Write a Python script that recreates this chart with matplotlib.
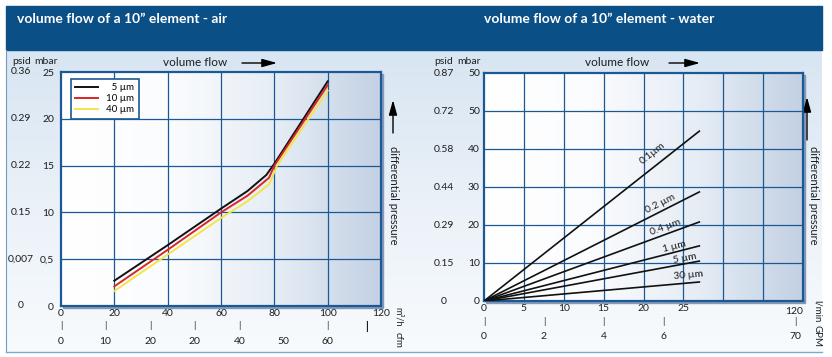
import numpy as np
import matplotlib
matplotlib.use('Agg')
import matplotlib.pyplot as plt
from matplotlib.colors import LinearSegmentedColormap
from matplotlib.patches import Rectangle

W, H = 832, 357

# air chart: volume flow (m3/h) vs differential pressure (mbar)
air_flow_5 = [20, 40, 60, 70, 77, 80, 100]
air_dp_5 = [2.7, 6.5, 10.4, 12.3, 14.0, 15.2, 24.0]
air_flow_10 = [20, 40, 60, 70, 78, 80, 100]
air_dp_10 = [2.1, 6.0, 10.0, 11.8, 13.7, 15.0, 23.6]
air_flow_40 = [20, 40, 60, 70, 78, 80, 81, 100]
air_dp_40 = [1.6, 5.5, 9.4, 11.2, 13.0, 14.3, 15.0, 23.0]
air_labels = ['5 µm', '10 µm', '40 µm']
air_colors = ['#111111', '#d8262a', '#f3e548']

air_x_ticks = [0, 20, 40, 60, 80, 100, 120]
air_mbar_ticks = [0, 5, 10, 15, 20, 25]
air_mbar_labels = ['0', '0,5', '10', '15', '20', '25']
air_psid_labels = ['0', '0,007', '0.15', '0.22', '0.29', '0.36']
air_cfm_pos = [0, 16.5, 33.5, 50, 67, 83.5, 100]
air_cfm_labels = ['0', '10', '20', '20', '40', '50', '60']

# water chart: volume flow (l/min) vs differential pressure (mbar)
water_filters = ['0.1µm', '0.2 µm', '0.4 µm', '1 µm', '5 µm', '30 µm']
water_end_flow = 27
water_end_dp = [44.7, 28.7, 20.8, 14.5, 10.5, 5.0]
water_label_x = [21.1, 22.1, 22.8, 23.9, 25.2, 25.6]
water_label_dy = [4.0, 2.0, 1.9, 1.4, 1.5, 2.1]
water_x_ticks = [0, 5, 10, 15, 20, 25]
water_mbar_ticks = [0, 10, 20, 30, 40, 50, 60]
water_mbar_labels = ['0', '10', '20', '30', '40', '50', '50']
water_psid_labels = ['0', '0.15', '0.29', '0.44', '0.58', '0.72', '0.87']
water_gpm_pos = [0, 7.5, 15, 22.5, 39]
water_gpm_labels = ['0', '2', '4', '6', '70']

plt.rcParams['font.family'] = ['Lato', 'DejaVu Sans']
blue = '#1b5896'
txt = '#1e1e1e'

fig = plt.figure(figsize=(W / 100, H / 100), dpi=100)


def rect(x0, y0, x1, y1):
    return [x0 / W, 1 - y1 / H, (x1 - x0) / W, (y1 - y0) / H]


# background layer in pixel coords
bg = fig.add_axes([0, 0, 1, 1])
panel_cmap = LinearSegmentedColormap.from_list('panel', ['#d8e5f2', '#eaf1f8', '#f8fbfd'])
bg.imshow(np.linspace(0, 1, 100).reshape(-1, 1), extent=(6, 822, 352, 50),
          cmap=panel_cmap, aspect='auto', zorder=0)
bg.set_xlim(0, W)
bg.set_ylim(H, 0)
bg.axis('off')
bg.add_patch(Rectangle((6, 6), 816, 44, color='#0b4f87', zorder=1))
bg.plot([6, 6], [50, 352], color='#6f9bc6', lw=0.8, zorder=1)
bg.plot([6, 822], [352, 352], color='#7fa8cf', lw=1.0, zorder=1)
bg.text(17, 19, 'volume flow of a 10\u201d element - air', color='white',
        fontsize=10, fontweight='bold', va='center', ha='left')
bg.text(484, 19, 'volume flow of a 10\u201d element - water', color='white',
        fontsize=10, fontweight='bold', va='center', ha='left')

# frame shadows
bg.add_patch(Rectangle((63, 74), 320, 234, color='#8599b6', zorder=1))
bg.add_patch(Rectangle((486, 75), 319, 228, color='#8599b6', zorder=1))

# headings, arrows, unit labels
arrow = dict(arrowstyle='-|>,head_length=0.9,head_width=0.25', color='black',
             lw=1.0, shrinkA=0, shrinkB=0)
for cx, x0, x1 in [(195, 242, 277), (617, 669, 700)]:
    bg.text(cx, 63, 'volume flow', fontsize=8.5, ha='center', va='center', color=txt)
    bg.annotate('', xy=(x1, 63), xytext=(x0, 63), arrowprops=arrow)
for x, y0, y1 in [(393, 133, 100), (807, 140, 97)]:
    bg.annotate('', xy=(x, y1), xytext=(x, y0), arrowprops=arrow)
bg.text(394, 195, 'differential pressure', rotation=-90, fontsize=8,
        ha='center', va='center', color=txt)
bg.text(813, 195, 'differential pressure', rotation=-90, fontsize=8,
        ha='center', va='center', color=txt)
bg.text(398, 317, 'm\u00b3/h', rotation=-90, fontsize=6.5, ha='center', va='center', color=txt)
bg.text(398, 340, 'cfm', rotation=-90, fontsize=7, ha='center', va='center', color=txt)
bg.text(817, 311, 'l/min', rotation=-90, fontsize=7, ha='center', va='center', color=txt)
bg.text(817, 336, 'GPM', rotation=-90, fontsize=7, ha='center', va='center', color=txt)
bg.text(22, 61, 'psid', fontsize=7.5, ha='center', va='center', color=txt)
bg.text(46, 61, 'mbar', fontsize=7.5, ha='center', va='center', color=txt)
bg.text(444, 61, 'psid', fontsize=7.5, ha='center', va='center', color=txt)
bg.text(469, 61, 'mbar', fontsize=7.5, ha='center', va='center', color=txt)

plot_cmap = LinearSegmentedColormap.from_list('plot', ['#ffffff', '#fbfcfe', '#e6edf5', '#c3d1e4'])


def make_axes(box, xmax, xstep, ymax, ystep):
    ax = fig.add_axes(rect(*box))
    ax.imshow(np.linspace(0, 1, 256).reshape(1, -1), extent=(0, xmax, 0, ymax),
              aspect='auto', cmap=plot_cmap, zorder=0)
    ax.set_xlim(0, xmax)
    ax.set_ylim(0, ymax)
    for gx in np.arange(xstep, xmax, xstep):
        ax.axvline(gx, color=blue, lw=0.9, zorder=1)
    for gy in np.arange(ystep, ymax, ystep):
        ax.axhline(gy, color=blue, lw=0.9, zorder=1)
    for s in ax.spines.values():
        s.set_color(blue)
        s.set_linewidth(1.6)
    ax.tick_params(length=0, labelsize=7.5, labelcolor=txt)
    return ax


# ---- air chart
ax1 = make_axes((61, 72, 381, 306), 120, 20, 25, 5)
width = max(len(l) for l in air_labels)
for fx, dp, lab, col in zip([air_flow_5, air_flow_10, air_flow_40],
                            [air_dp_5, air_dp_10, air_dp_40], air_labels, air_colors):
    ax1.plot(fx, dp, color=col, lw=1.4, zorder=3, label=lab.rjust(width, '\u2007'))
leg = ax1.legend(loc='upper left', bbox_to_anchor=(10 / 320, 227 / 234), fancybox=False,
                 edgecolor=blue, framealpha=1, fontsize=7, handlelength=2.3,
                 handletextpad=0.9, labelspacing=0.2, borderpad=0.45, borderaxespad=0)
leg.get_frame().set_linewidth(1.2)
ax1.set_xticks(air_x_ticks)
ax1.set_yticks(air_mbar_ticks, air_mbar_labels)
ax1.tick_params(axis='y', pad=5)
ax1.tick_params(axis='x', pad=2.5)
for t, lab in zip(air_mbar_ticks, air_psid_labels):
    ax1.text(-0.125, t, lab, transform=ax1.get_yaxis_transform(), fontsize=7.5,
             ha='center', va='center', color=txt)
xt = ax1.get_xaxis_transform()
for p, lab in zip(air_cfm_pos, air_cfm_labels):
    if lab != '50':
        ax1.text(p, -0.085, '|', transform=xt, fontsize=7, ha='center', va='center', color=txt)
    ax1.text(p, -0.15, lab, transform=xt, fontsize=7.5, ha='center', va='center', color=txt)
ax1.text(114.5, -0.088, '|', transform=xt, fontsize=8, fontweight='bold',
         ha='center', va='center', color=txt)

# ---- water chart
ax2 = make_axes((484, 73, 803, 301), 40, 5, 60, 10)
for dp in water_end_dp:
    ax2.plot([0, water_end_flow], [0, dp], color='#111111', lw=1.2, zorder=3)
for dp, lab, lx, dy in zip(water_end_dp, water_filters, water_label_x, water_label_dy):
    ang = np.degrees(np.arctan2(dp, water_end_flow))
    ax2.text(lx, dp * lx / water_end_flow + dy, lab, rotation=ang, transform_rotates_text=True,
             rotation_mode='anchor', ha='center', va='center', fontsize=7.5, color=txt, zorder=4)
ax2.set_xticks(water_x_ticks)
ax2.set_yticks(water_mbar_ticks, water_mbar_labels)
ax2.tick_params(axis='y', pad=3)
ax2.tick_params(axis='x', pad=2.5)
ax2.text(40, -0.044, '120', transform=ax2.get_xaxis_transform(), fontsize=7.5,
         ha='right', va='center', color=txt)
for t, lab in zip(water_mbar_ticks, water_psid_labels):
    ax2.text(-0.125, t, lab, transform=ax2.get_yaxis_transform(), fontsize=7.5,
             ha='center', va='center', color=txt)
xt2 = ax2.get_xaxis_transform()
for p, lab in zip(water_gpm_pos, water_gpm_labels):
    ax2.text(p, -0.088, '|', transform=xt2, fontsize=7, ha='center', va='center', color=txt)
    ax2.text(p, -0.154, lab, transform=xt2, fontsize=7.5, ha='center', va='center', color=txt)

fig.savefig('out.png', dpi=100)
